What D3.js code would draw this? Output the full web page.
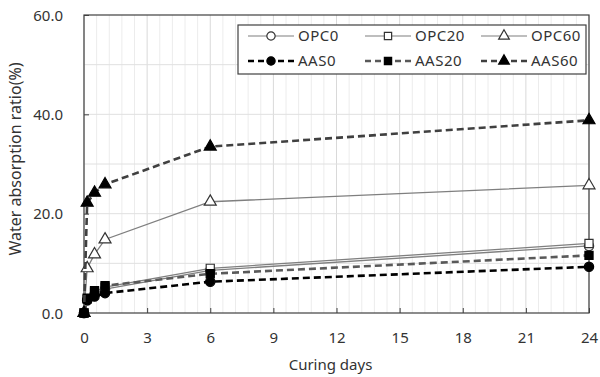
<!DOCTYPE html>
<html>
<head>
<meta charset="utf-8">
<script src="https://cdn.jsdelivr.net/npm/d3@7"></script>
<style>
  body { margin: 0; background: #fff; }
  text { font-family: "Noto Sans", sans-serif; fill: #333; }
  .x-axis text, .y-axis text { font-size: 15px; }
</style>
</head>
<body>
<div id="chart"></div>
<script>
// curing days for every series
const days = [0, 0.15, 0.5, 1, 6, 24];

// water absorption ratio (%)
const opc0 = [0, 2.5, 3.8, 4.8, 8.6, 13.5];
const opc20 = [0, 2.8, 4.2, 5.2, 9.0, 14.0];
const opc60 = [0, 9.0, 11.8, 14.8, 22.4, 25.7];
const aas0 = [0, 2.6, 3.3, 4.0, 6.3, 9.3];
const aas20 = [0, 3.0, 4.5, 5.5, 7.9, 11.6];
const aas60 = [0, 22.2, 24.2, 25.9, 33.5, 38.8];

const xTicks = [0, 3, 6, 9, 12, 15, 18, 21, 24];
const yTicks = [0, 20, 40, 60];

const width = 600;
const height = 377;
const margins = { top: 15, right: 11, bottom: 64, left: 84 };
const innerWidth = width - margins.left - margins.right;
const innerHeight = height - margins.top - margins.bottom;

const series = [
  { name: 'OPC0', values: opc0, shape: 'circle', filled: false, color: '#7f7f7f', dash: null },
  { name: 'OPC20', values: opc20, shape: 'square', filled: false, color: '#7f7f7f', dash: null },
  { name: 'OPC60', values: opc60, shape: 'triangle', filled: false, color: '#7f7f7f', dash: null },
  { name: 'AAS0', values: aas0, shape: 'circle', filled: true, color: '#000', dash: '7,4' },
  { name: 'AAS20', values: aas20, shape: 'square', filled: true, color: '#595959', dash: '7,4' },
  { name: 'AAS60', values: aas60, shape: 'triangle', filled: true, color: '#404040', dash: '7,4' }
];

const svg = d3.select('#chart')
  .append('svg')
  .attr('width', width)
  .attr('height', height)
  .style('display', 'block');

const g = svg.append('g')
  .attr('transform', `translate(${margins.left},${margins.top})`);

const xScale = d3.scaleLinear().domain([0, 24]).range([0, innerWidth]);
const yScale = d3.scaleLinear().domain([0, 60]).range([innerHeight, 0]);

// gridlines
g.append('g')
  .selectAll('line')
  .data(d3.range(0, 24.01, 0.6))
  .enter()
  .append('line')
  .attr('x1', d => xScale(d))
  .attr('x2', d => xScale(d))
  .attr('y1', 0)
  .attr('y2', innerHeight)
  .attr('stroke', (d, i) => i % 5 === 0 ? '#d9d9d9' : '#ececec')
  .attr('stroke-width', 1);

g.append('g')
  .selectAll('line')
  .data(d3.range(10, 60, 10))
  .enter()
  .append('line')
  .attr('x1', 0)
  .attr('x2', innerWidth)
  .attr('y1', d => yScale(d))
  .attr('y2', d => yScale(d))
  .attr('stroke', '#e0e0e0')
  .attr('stroke-width', 1);

// axes, ticks pointing inward
g.append('g')
  .attr('class', 'x-axis')
  .attr('transform', `translate(0,${innerHeight})`)
  .call(d3.axisBottom(xScale).tickValues(xTicks).tickSizeInner(-5).tickSizeOuter(0))
  .attr('font-size', null)
  .attr('font-family', null)
  .call(a => a.select('.domain').remove())
  .call(a => a.selectAll('line').attr('stroke', '#404040'))
  .call(a => a.selectAll('text').attr('y', 30).attr('dy', null));

g.append('g')
  .attr('class', 'y-axis')
  .call(d3.axisLeft(yScale).tickValues(yTicks).tickFormat(d3.format('.1f')).tickSizeInner(-5).tickSizeOuter(0).tickPadding(21))
  .attr('font-size', null)
  .attr('font-family', null)
  .call(a => a.select('.domain').remove())
  .call(a => a.selectAll('line').attr('stroke', '#404040'))
  .call(a => a.selectAll('text').attr('y', 5).attr('dy', null));

// plot border
g.append('rect')
  .attr('width', innerWidth)
  .attr('height', innerHeight)
  .attr('fill', 'none')
  .attr('stroke', '#404040')
  .attr('stroke-width', 1.2);

// markers
function drawMarker(sel, s, scale) {
  const sym = s.shape === 'circle' ? d3.symbolCircle : s.shape === 'square' ? d3.symbolSquare : d3.symbolTriangle;
  const area = s.shape === 'circle' ? 68 : s.shape === 'square' ? 66 : 62;
  return sel.append('path')
    .attr('d', d3.symbol().type(sym).size(area * scale))
    .attr('fill', s.filled ? '#000' : '#fff')
    .attr('stroke', s.filled ? '#000' : '#333')
    .attr('stroke-width', 1.2);
}

const line = d3.line()
  .x((d, i) => xScale(days[i]))
  .y(d => yScale(d));

series.forEach(s => {
  const sg = g.append('g').attr('class', 'series');
  sg.append('path')
    .datum(s.values)
    .attr('d', line)
    .attr('fill', 'none')
    .attr('stroke', s.color)
    .attr('stroke-width', s.dash ? 2.6 : 1.3)
    .attr('stroke-dasharray', s.dash);
  s.values.forEach((v, i) => {
    drawMarker(sg.append('g').attr('transform', `translate(${xScale(days[i])},${yScale(v)})`), s, 1);
  });
});

// legend
const legend = svg.append('g').attr('class', 'legend');
legend.append('rect')
  .attr('x', 238)
  .attr('y', 25)
  .attr('width', 348)
  .attr('height', 49)
  .attr('fill', '#fff')
  .attr('stroke', '#404040')
  .attr('stroke-width', 1.2);

const colX = [248, 365, 481];
const rowY = [36, 61];
series.forEach((s, i) => {
  const x0 = colX[i % 3];
  const y0 = rowY[Math.floor(i / 3)];
  const item = legend.append('g').attr('transform', `translate(${x0},${y0})`);
  item.append('line')
    .attr('x1', 0)
    .attr('x2', 46)
    .attr('stroke', s.color)
    .attr('stroke-width', s.dash ? 2.4 : 1.2)
    .attr('stroke-dasharray', s.dash ? '6,4' : null);
  drawMarker(item.append('g').attr('transform', 'translate(23,0)'), s, 0.8);
  item.append('text')
    .attr('x', 50)
    .attr('y', 5)
    .attr('font-size', '15px')
    .style('letter-spacing', '0.5px')
    .text(s.name);
});

// axis titles
svg.append('text')
  .attr('x', margins.left + innerWidth / 2 - 6)
  .attr('y', 370)
  .attr('text-anchor', 'middle')
  .attr('font-size', '15px')
  .text('Curing days');

svg.append('text')
  .attr('transform', 'rotate(-90)')
  .attr('x', -159)
  .attr('y', 21)
  .attr('text-anchor', 'middle')
  .attr('font-size', '16px')
  .text('Water absorption ratio(%)');
</script>
</body>
</html>
